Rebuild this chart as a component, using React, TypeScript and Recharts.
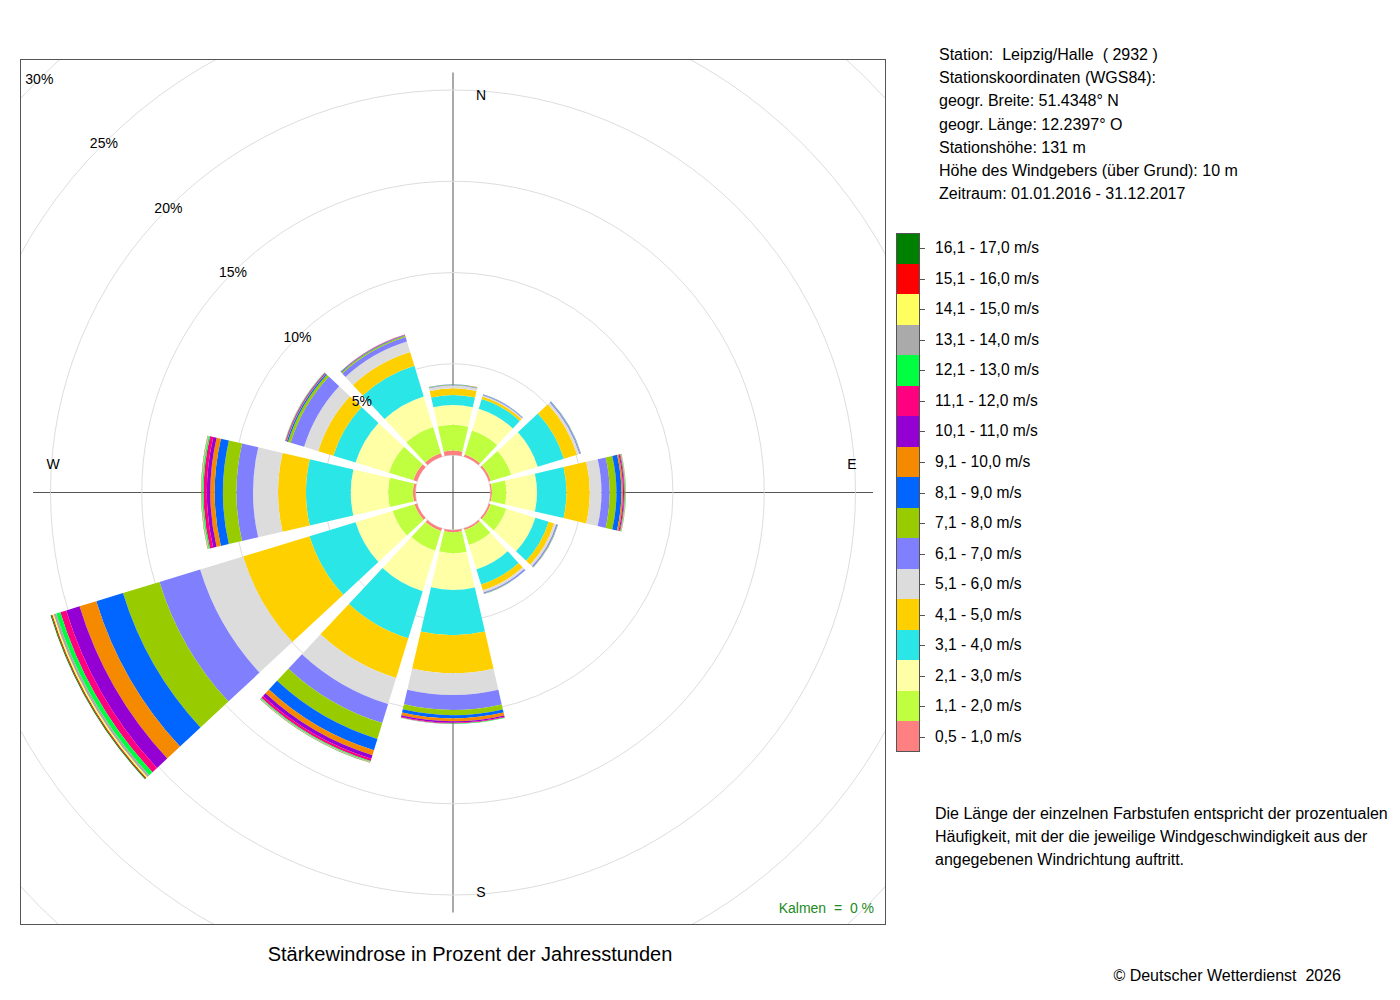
import React from 'react';
import {
  RadialBarChart,
  RadialBar,
  PolarAngleAxis,
  PolarRadiusAxis,
  PolarGrid,
} from 'recharts';

// wind sectors, clockwise from north (degrees)
const sectors = [360, 30, 60, 90, 120, 150, 180, 210, 240, 270, 300, 330];

const speedClasses = [
  '0,5 - 1,0 m/s',
  '1,1 - 2,0 m/s',
  '2,1 - 3,0 m/s',
  '3,1 - 4,0 m/s',
  '4,1 - 5,0 m/s',
  '5,1 - 6,0 m/s',
  '6,1 - 7,0 m/s',
  '7,1 - 8,0 m/s',
  '8,1 - 9,0 m/s',
  '9,1 - 10,0 m/s',
  '10,1 - 11,0 m/s',
  '11,1 - 12,0 m/s',
  '12,1 - 13,0 m/s',
  '13,1 - 14,0 m/s',
  '14,1 - 15,0 m/s',
  '15,1 - 16,0 m/s',
  '16,1 - 17,0 m/s',
];

const classColors = [
  '#FF8080', '#BFFF3F', '#FFFFA6', '#2AE6E6', '#FFD000', '#DCDCDC',
  '#8080FF', '#99CC00', '#0066FF', '#F58A00', '#9400D3', '#FF0080',
  '#00FF40', '#AAAAAA', '#FFFF60', '#FF0000', '#008000',
];

// % of yearly hours per sector (order as `sectors`), one list per speed class
const v0510 = [0.24, 0.12, 0.11, 0.08, 0.1, 0.1, 0.12, 0.15, 0.15, 0.14, 0.22, 0.2];
const v1120 = [1.41, 1.38, 1.17, 0.79, 0.9, 0.85, 1.15, 1.14, 1.25, 1.36, 1.4, 1.5];
const v2130 = [1.09, 1.25, 1.52, 1.68, 1.67, 1.4, 2.01, 2.31, 2.13, 2.05, 1.91, 1.75];
const v3140 = [0.55, 0.56, 1.5, 1.61, 0.76, 0.87, 2.48, 2.7, 2.63, 2.45, 1.27, 1.75];
const v4150 = [0.36, 0.14, 0.75, 1.28, 0.31, 0.33, 2.09, 2.28, 3.81, 1.53, 0.87, 0.8];
const v5160 = [0.15, 0.06, 0.14, 0.64, 0.13, 0.13, 1.19, 1.49, 2.46, 1.37, 0.81, 0.6];
const v6170 = [0.04, 0.04, 0.06, 0.45, 0.07, 0.06, 0.82, 1.09, 2.33, 0.91, 0.77, 0.25];
const v7180 = [0.02, 0.01, 0.02, 0.37, 0.02, 0.015, 0.28, 0.91, 2.09, 0.74, 0.15, 0.07];
const v8190 = [0.01, 0.01, 0.01, 0.27, 0.01, 0.01, 0.18, 0.65, 1.53, 0.45, 0.07, 0.04];
const v91100 = [0.01, 0, 0, 0.09, 0, 0, 0.16, 0.28, 0.96, 0.24, 0.03, 0.01];
const v101110 = [0, 0, 0, 0.05, 0, 0, 0.08, 0.2, 0.76, 0.19, 0.03, 0.01];
const v111120 = [0, 0, 0, 0.04, 0, 0, 0.04, 0.13, 0.34, 0.18, 0.03, 0.01];
const v121130 = [0, 0, 0, 0.03, 0, 0, 0.02, 0.05, 0.24, 0.07, 0.02, 0.01];
const v131140 = [0, 0, 0, 0.02, 0, 0, 0.01, 0.03, 0.14, 0.03, 0.01, 0];
const v141150 = [0, 0, 0, 0.01, 0, 0, 0, 0.01, 0.08, 0.02, 0.01, 0];
const v151160 = [0, 0, 0, 0.005, 0, 0, 0, 0.01, 0.05, 0.01, 0, 0];
const v161170 = [0, 0, 0, 0.005, 0, 0, 0, 0.01, 0.05, 0.01, 0, 0];

const classValues = [
  v0510, v1120, v2130, v3140, v4150, v5160, v6170, v7180, v8190,
  v91100, v101110, v111120, v121130, v131140, v141150, v151160, v161170,
];

const stationLines = [
  'Station:  Leipzig/Halle  ( 2932 )',
  'Stationskoordinaten (WGS84):',
  'geogr. Breite: 51.4348° N',
  'geogr. Länge: 12.2397° O',
  'Stationshöhe: 131 m',
  'Höhe des Windgebers (über Grund): 10 m',
  'Zeitraum: 01.01.2016 - 31.12.2017',
];

const noteLines = [
  'Die Länge der einzelnen Farbstufen entspricht der prozentualen',
  'Häufigkeit, mit der die jeweilige Windgeschwindigkeit aus der',
  'angegebenen Windrichtung auftritt.',
];

const rows = sectors.map((s, i) => {
  const row: Record<string, number> = { sector: s };
  classValues.forEach((vals, k) => {
    row[`c${k}`] = vals[i];
  });
  return row;
});

const FRAME = 866;
const CX = 433;
const CY = 433.5;
const INNER = 37.5;
const OUTER = 585;

const pctTick = (props: any) => {
  const { x, y, payload } = props;
  if (!payload || !payload.value) return <g />;
  return (
    <text x={x} y={y} textAnchor="middle" dominantBaseline="central" fontSize={14} fill="#000">
      {`${payload.value}%`}
    </text>
  );
};

function Backdrop() {
  const L = 420;
  return (
    <svg width={FRAME} height={FRAME} style={{ position: 'absolute', left: 0, top: 0 }}>
      <line x1={CX - L} y1={CY} x2={CX + L} y2={CY} stroke="#555" strokeWidth={1} />
      <line x1={CX} y1={CY - L} x2={CX} y2={CY + L} stroke="#555" strokeWidth={1} />
    </svg>
  );
}

function Compass() {
  const t = { fontSize: 14, fill: '#000', dominantBaseline: 'central' as const, textAnchor: 'middle' as const };
  return (
    <svg width={FRAME} height={FRAME} style={{ position: 'absolute', left: 0, top: 0, pointerEvents: 'none' }}>
      <text {...t} x={CX + 28} y={CY - 398}>N</text>
      <text {...t} x={CX + 399} y={CY - 29}>E</text>
      <text {...t} x={CX + 28} y={CY + 399}>S</text>
      <text {...t} x={CX - 400} y={CY - 29}>W</text>
      <text x={FRAME - 12} y={849} fontSize={14} fill="#228B22" textAnchor="end" dominantBaseline="central" style={{ whiteSpace: 'pre' }}>
        {'Kalmen  =  0 %'}
      </text>
    </svg>
  );
}

export default function App() {
  const cellH = 519 / speedClasses.length;
  return (
    <div
      style={{
        position: 'absolute',
        left: 0,
        top: 0,
        width: 1400,
        height: 1000,
        background: '#fff',
        fontFamily: '"Liberation Sans", Arial, sans-serif',
        color: '#000',
      }}
    >
      <div style={{ position: 'absolute', left: 20, top: 59, width: FRAME, height: FRAME }}>
        <Backdrop />
        <div style={{ position: 'absolute', left: 0, top: 0 }}>
          <RadialBarChart
            width={FRAME}
            height={FRAME}
            data={rows}
            cx={CX}
            cy={CY}
            innerRadius={INNER}
            outerRadius={OUTER}
            startAngle={75}
            endAngle={-285}
            layout="centric"
            barCategoryGap="6.5%"
            margin={{ top: 0, right: 0, bottom: 0, left: 0 }}
          >
            <PolarGrid gridType="circle" radialLines={false} stroke="#dddddd" />
            <PolarAngleAxis type="category" dataKey="sector" tick={false} axisLine={false} tickLine={false} />
            <PolarRadiusAxis
              type="number"
              domain={[0, 30]}
              tickCount={7}
              angle={135}
              orientation="middle"
              axisLine={false}
              tick={pctTick}
            />
            {classColors.map((c, k) => (
              <RadialBar key={k} dataKey={`c${k}`} stackId="w" fill={c} isAnimationActive={false} />
            ))}
          </RadialBarChart>
        </div>
        <Compass />
        <div
          style={{
            position: 'absolute',
            left: 0,
            top: 0,
            width: FRAME,
            height: FRAME,
            border: '1px solid #555',
            boxSizing: 'border-box',
            pointerEvents: 'none',
          }}
        />
      </div>

      {stationLines.map((s, i) => (
        <div
          key={s}
          style={{
            position: 'absolute',
            left: 939,
            top: 55 + i * 23.17 - 10,
            lineHeight: '20px',
            fontSize: 16,
            whiteSpace: 'pre',
          }}
        >
          {s}
        </div>
      ))}

      <div style={{ position: 'absolute', left: 896, top: 233, width: 24, height: 519, border: '1px solid #555', boxSizing: 'border-box' }} />
      {speedClasses
        .map((label, k) => ({ label, color: classColors[k] }))
        .reverse()
        .map((e, i) => (
          <React.Fragment key={e.label}>
            <div
              style={{
                position: 'absolute',
                left: 897,
                top: 233 + i * cellH + (i === 0 ? 1 : 0),
                width: 22,
                height: cellH - (i === 0 ? 1 : 0) - (i === speedClasses.length - 1 ? 1 : 0),
                background: e.color,
              }}
            />
            <div
              style={{
                position: 'absolute',
                left: 920,
                top: 233 + (i + 0.5) * cellH,
                width: 5,
                height: 1,
                background: '#555',
              }}
            />
            <div
              style={{
                position: 'absolute',
                left: 935,
                top: 233 + (i + 0.5) * cellH - 10,
                lineHeight: '20px',
                fontSize: 15.6,
                whiteSpace: 'pre',
              }}
            >
              {e.label}
            </div>
          </React.Fragment>
        ))}

      {noteLines.map((s, i) => (
        <div
          key={s}
          style={{
            position: 'absolute',
            left: 935,
            top: 814 + i * 23 - 10,
            lineHeight: '20px',
            fontSize: 16,
            whiteSpace: 'pre',
          }}
        >
          {s}
        </div>
      ))}

      <div
        style={{
          position: 'absolute',
          left: 170,
          width: 600,
          top: 954 - 12,
          lineHeight: '24px',
          fontSize: 20,
          textAlign: 'center',
        }}
      >
        Stärkewindrose in Prozent der Jahresstunden
      </div>

      <div
        style={{
          position: 'absolute',
          right: 1400 - 1341,
          top: 976 - 10,
          lineHeight: '20px',
          fontSize: 16,
          whiteSpace: 'pre',
        }}
      >
        {'© Deutscher Wetterdienst  2026'}
      </div>
    </div>
  );
}
